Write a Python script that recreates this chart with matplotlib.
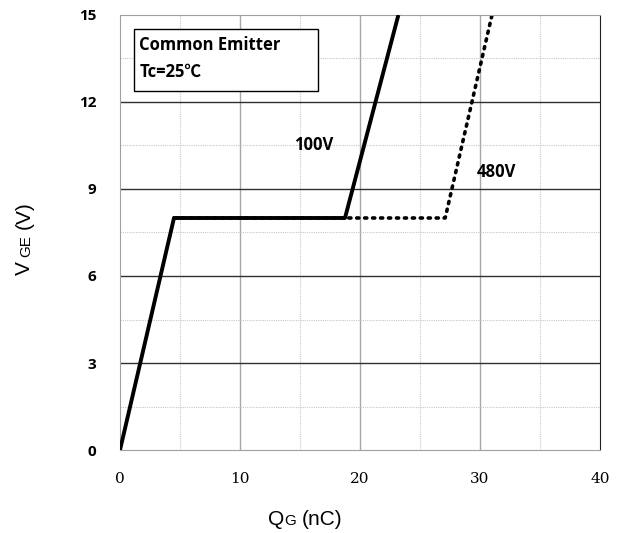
import matplotlib.pyplot as plt
from matplotlib.patches import Rectangle

# Gate charge curves
qg_100v = [0, 4.5, 18.75, 23.2]
vge_100v = [0, 8, 8, 15]
qg_480v = [4.5, 27.1, 31.0]
vge_480v = [8, 8, 15]

x_ticks = [0, 10, 20, 30, 40]
y_ticks = [0, 3, 6, 9, 12, 15]

fig = plt.figure(figsize=(6.24, 5.33), dpi=100)
ax = fig.add_axes([0.1923, 0.1557, 0.7692, 0.8162])

# Grid: minor dotted, major solid
for x in [5, 15, 25, 35]:
    ax.axvline(x, color='#c8c8c8', lw=0.8, ls=(0, (1, 1)), zorder=0)
for x in [10, 20, 30]:
    ax.axvline(x, color='#a8a8a8', lw=1.0, zorder=0)
for y in [1.5, 4.5, 7.5, 10.5, 13.5]:
    ax.axhline(y, color='#c8c8c8', lw=0.8, ls=(0, (1, 1)), zorder=0)
for y in [3, 6, 9, 12]:
    ax.axhline(y, color='#303030', lw=1.0, zorder=0)

ax.plot(qg_480v, vge_480v, color='black', lw=2.6, ls=(0, (0.6, 1.6)),
        dash_capstyle='round', zorder=2)
ax.plot(qg_100v, vge_100v, color='black', lw=2.8, solid_capstyle='butt', zorder=3)

ax.set_xlim(0, 40)
ax.set_ylim(0, 15)
ax.set_xticks(x_ticks)
ax.set_yticks(y_ticks)
ax.set_xticklabels([str(t) for t in x_ticks], family='DejaVu Serif', fontsize=11)
ax.set_yticklabels([str(t) for t in y_ticks], family='Open Sans', fontsize=11,
                   fontweight='bold')
ax.tick_params(length=0)
ax.tick_params(axis='x', pad=16)
ax.tick_params(axis='y', pad=17)

for side in ['left', 'bottom', 'top']:
    ax.spines[side].set_color('#a0a0a0')
ax.spines['right'].set_color('#202020')

# Annotation box
ax.add_patch(Rectangle((1.17, 12.38), 15.33, 2.12, fc='white', ec='black',
                       lw=1.0, zorder=4))
ax.text(1.6, 13.97, 'Common Emitter', family='Open Sans', fontsize=12,
        fontweight='bold', va='center', ha='left', zorder=5)
ax.text(1.6, 13.03, 'Tc=25℃', family=['Open Sans', 'Noto Sans CJK SC'], fontsize=12,
        fontweight='bold', va='center', ha='left', zorder=5)
ax.text(14.5, 10.5, '100V', family='Open Sans', fontsize=12, fontweight='bold',
        va='center', ha='left')
ax.text(29.7, 9.6, '480V', family='Open Sans', fontsize=12, fontweight='bold',
        va='center', ha='left')

# Axis labels with small baseline subscripts
fig.text(0.4295, 0.015, 'Q', fontsize=15, family='Liberation Sans', va='baseline')
fig.text(0.455, 0.015, 'G', fontsize=11, family='Liberation Sans', va='baseline')
fig.text(0.484, 0.015, '(nC)', fontsize=15, family='Liberation Sans', va='baseline')

for s, size, y in [('V', 15, 0.484), ('GE', 11, 0.518), ('(V)', 15, 0.570)]:
    fig.text(0.048, y, s, fontsize=size, family='Liberation Sans', rotation=90,
             rotation_mode='anchor', ha='left', va='baseline')

fig.savefig('out.png', dpi=100)
